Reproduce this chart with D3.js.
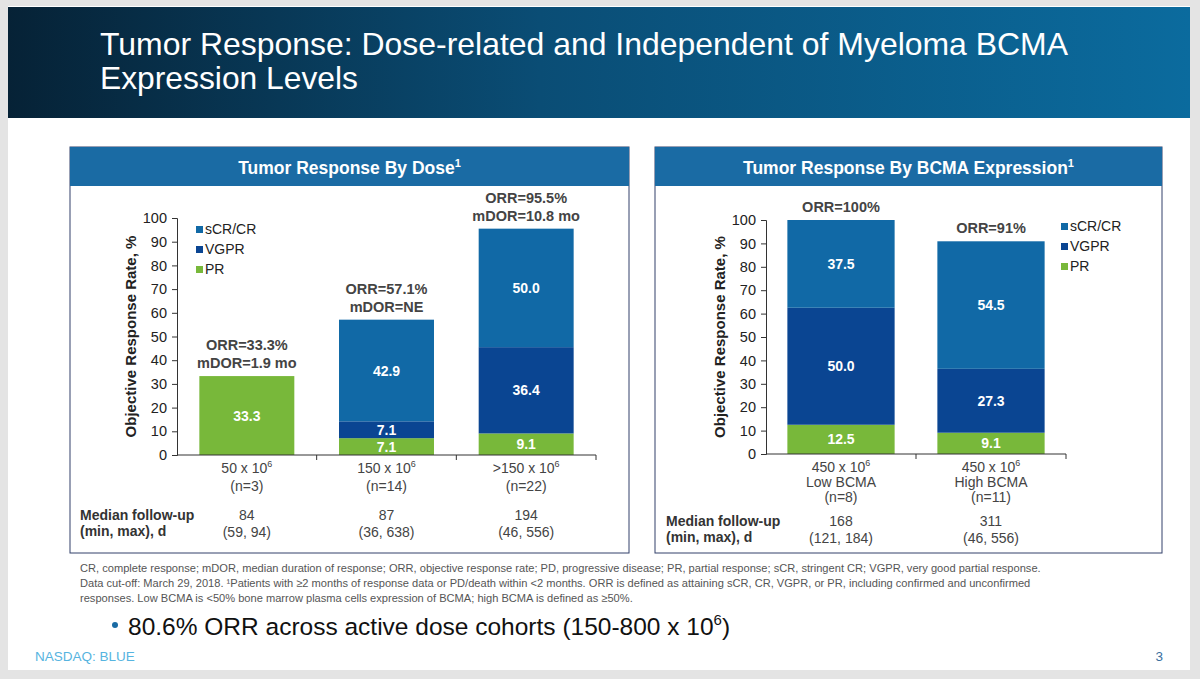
<!DOCTYPE html>
<html>
<head>
<meta charset="utf-8">
<script src="https://cdn.jsdelivr.net/npm/d3@7"></script>
<style>
  body { margin: 0; background: #e4e4e4; }
  svg { display: block; font-family: "Liberation Sans", Arial, sans-serif; }
</style>
</head>
<body>
<svg id="slide" width="1200" height="679"></svg>
<script>
// --- data ---
var seriesKeys = ["PR", "VGPR", "CR"];
var legendLabels = ["sCR/CR", "VGPR", "PR"];

var doseCats = ["50", "150", ">150"];
var doseLabels = [["50 x 10", "(n=3)"], ["150 x 10", "(n=14)"], [">150 x 10", "(n=22)"]];
var dosePR = [33.3, 7.1, 9.1];
var doseVGPR = [0, 7.1, 36.4];
var doseCR = [0, 42.9, 50.0];
var doseORR = [["ORR=33.3%", "mDOR=1.9 mo"], ["ORR=57.1%", "mDOR=NE"], ["ORR=95.5%", "mDOR=10.8 mo"]];
var doseFollow = [["84", "(59, 94)"], ["87", "(36, 638)"], ["194", "(46, 556)"]];

var bcmaCats = ["low", "high"];
var bcmaLabels = [["450 x 10", "Low BCMA", "(n=8)"], ["450 x 10", "High BCMA", "(n=11)"]];
var bcmaPR = [12.5, 9.1];
var bcmaVGPR = [50.0, 27.3];
var bcmaCR = [37.5, 54.5];
var bcmaORR = [["ORR=100%"], ["ORR=91%"]];
var bcmaFollow = [["168", "(121, 184)"], ["311", "(46, 556)"]];

var yTicks = [0, 10, 20, 30, 40, 50, 60, 70, 80, 90, 100];

var colors = { CR: "#1169a6", VGPR: "#0a4592", PR: "#78b83a" };

var svg = d3.select("#slide");

// slide background + header band
svg.append("rect").attr("x", 8).attr("y", 6).attr("width", 1182).attr("height", 664).attr("fill", "#fff");
var grad = svg.append("defs").append("linearGradient").attr("id", "hdr");
grad.append("stop").attr("offset", "0%").attr("stop-color", "#062236");
grad.append("stop").attr("offset", "45%").attr("stop-color", "#0a4d75");
grad.append("stop").attr("offset", "100%").attr("stop-color", "#0b6b9e");
svg.append("rect").attr("x", 8).attr("y", 7).attr("width", 1182).attr("height", 111).attr("fill", "url(#hdr)");
svg.append("text").attr("x", 100).attr("y", 55).attr("fill", "#fff").attr("font-size", 32)
  .attr("textLength", 968).attr("lengthAdjust", "spacingAndGlyphs")
  .text("Tumor Response: Dose-related and Independent of Myeloma BCMA");
svg.append("text").attr("x", 100).attr("y", 89).attr("fill", "#fff").attr("font-size", 32)
  .attr("textLength", 258).attr("lengthAdjust", "spacingAndGlyphs")
  .text("Expression Levels");

function panel(opt) {
  var g = svg.append("g");
  g.append("rect").attr("x", opt.px).attr("y", 147).attr("width", opt.pw).attr("height", 406)
    .attr("fill", "#fff").attr("stroke", "#33406a").attr("stroke-width", 1);
  g.append("rect").attr("x", opt.px).attr("y", 147).attr("width", opt.pw).attr("height", 39).attr("fill", "#1a6ba4");
  var t = g.append("text").attr("x", opt.px + opt.pw / 2).attr("y", 174).attr("text-anchor", "middle")
    .attr("fill", "#fff").attr("font-size", 17.5).attr("font-weight", "bold").text(opt.title);
  t.append("tspan").attr("font-size", 11).attr("dy", -7).text("1");

  var table = opt.cats.map(function (c, i) {
    return { cat: c, PR: opt.pr[i], VGPR: opt.vgpr[i], CR: opt.cr[i] };
  });
  var stacked = d3.stack().keys(seriesKeys)(table);

  var x = d3.scaleBand().domain(opt.cats).range([opt.x0, opt.x1]).padding(0);
  var y = d3.scaleLinear().domain([0, 100]).range([opt.y0, opt.y1]);
  var bw = x.bandwidth() * opt.barFrac;
  var bx = function (c) { return x(c) + (x.bandwidth() - bw) / 2; };

  // bars
  stacked.forEach(function (s) {
    g.append("g").selectAll("rect").data(s).join("rect")
      .attr("x", function (d) { return bx(d.data.cat); })
      .attr("y", function (d) { return y(d[1]); })
      .attr("width", bw)
      .attr("height", function (d) { return y(d[0]) - y(d[1]); })
      .attr("fill", colors[s.key]);
    g.append("g").selectAll("text").data(s.filter(function (d) { return d[1] - d[0] > 0; })).join("text")
      .attr("x", function (d) { return x(d.data.cat) + x.bandwidth() / 2; })
      .attr("y", function (d) { return (y(d[0]) + y(d[1])) / 2 + 5; })
      .attr("text-anchor", "middle").attr("fill", "#fff").attr("font-size", 14).attr("font-weight", "bold")
      .text(function (d) { return (d[1] - d[0]).toFixed(1); });
  });

  // y axis
  var ya = g.append("g").attr("transform", "translate(" + opt.x0 + ",0)")
    .call(d3.axisLeft(y).tickValues(yTicks).tickSize(5).tickPadding(5));
  ya.select(".domain").attr("stroke", "#333");
  ya.selectAll(".tick line").attr("stroke", "#333");
  ya.selectAll(".tick text").attr("font-size", 14.5).attr("fill", "#222").attr("font-family", "Liberation Sans, Arial, sans-serif");

  // x axis: baseline with separators
  g.append("line").attr("x1", opt.x0).attr("x2", opt.x1).attr("y1", y(0)).attr("y2", y(0)).attr("stroke", "#333");
  var seps = opt.cats.map(function (c) { return x(c); }).concat([opt.x1]);
  g.selectAll(".sep").data(seps.slice(1)).join("line")
    .attr("x1", function (d) { return d; }).attr("x2", function (d) { return d; })
    .attr("y1", y(0)).attr("y2", y(0) + 5).attr("stroke", "#333");

  g.append("text").attr("transform", "translate(" + opt.ytx + "," + y(50) + ") rotate(-90)")
    .attr("text-anchor", "middle").attr("font-size", 15).attr("font-weight", "bold").attr("fill", "#222")
    .text("Objective Response Rate, %");

  // category labels
  opt.cats.forEach(function (c, i) {
    var cx = x(c) + x.bandwidth() / 2;
    opt.labels[i].forEach(function (line, j) {
      var t = g.append("text").attr("x", cx).attr("y", y(0) + 18 + j * opt.lineGap)
        .attr("text-anchor", "middle").attr("font-size", 14).attr("fill", "#444").text(line);
      if (j === 0) t.append("tspan").attr("font-size", 9).attr("dy", -6).text("6");
    });
    var top = opt.pr[i] + opt.vgpr[i] + opt.cr[i];
    var lines = opt.orr[i];
    lines.forEach(function (line, j) {
      g.append("text").attr("x", cx).attr("y", y(top) - 8 - (lines.length - 1 - j) * 18)
        .attr("text-anchor", "middle").attr("font-size", 14.5).attr("font-weight", "bold").attr("fill", "#444")
        .text(line);
    });
    opt.follow[i].forEach(function (line, j) {
      g.append("text").attr("x", cx).attr("y", opt.fy + j * 17)
        .attr("text-anchor", "middle").attr("font-size", 14).attr("fill", "#444").text(line);
    });
  });

  g.append("text").attr("x", opt.fx).attr("y", opt.fy).attr("font-size", 14).attr("font-weight", "bold")
    .attr("fill", "#333").text("Median follow-up");
  g.append("text").attr("x", opt.fx).attr("y", opt.fy + 16).attr("font-size", 14).attr("font-weight", "bold")
    .attr("fill", "#333").text("(min, max), d");

  // legend
  var lg = g.append("g").attr("transform", "translate(" + opt.lx + "," + opt.ly + ")");
  legendLabels.forEach(function (lab, i) {
    var key = ["CR", "VGPR", "PR"][i];
    lg.append("rect").attr("x", 0).attr("y", i * 20 - 4).attr("width", 7).attr("height", 7).attr("fill", colors[key]);
    lg.append("text").attr("x", 9).attr("y", i * 20 + 4).attr("font-size", 14).attr("fill", "#222").text(lab);
  });
}

panel({
  px: 70, pw: 559, title: "Tumor Response By Dose",
  cats: doseCats, labels: doseLabels, pr: dosePR, vgpr: doseVGPR, cr: doseCR, orr: doseORR, follow: doseFollow,
  x0: 177, x1: 596, y0: 455, y1: 218, barFrac: 0.68, ytx: 136, lineGap: 18,
  fx: 80, fy: 520, lx: 196, ly: 230
});
panel({
  px: 655, pw: 507, title: "Tumor Response By BCMA Expression",
  cats: bcmaCats, labels: bcmaLabels, pr: bcmaPR, vgpr: bcmaVGPR, cr: bcmaCR, orr: bcmaORR, follow: bcmaFollow,
  x0: 766, x1: 1066, y0: 454, y1: 220, barFrac: 0.715, ytx: 725, lineGap: 15,
  fx: 666, fy: 526, lx: 1061, ly: 227
});

// footnotes
var notes = [
  "CR, complete response; mDOR, median duration of response; ORR, objective response rate; PD, progressive disease; PR, partial response; sCR, stringent CR; VGPR, very good partial response.",
  "Data cut-off: March 29, 2018. \u00b9Patients with \u22652 months of response data or PD/death within <2 months. ORR is defined as attaining sCR, CR, VGPR, or PR, including confirmed and unconfirmed",
  "responses. Low BCMA is <50% bone marrow plasma cells expression of BCMA; high BCMA is defined as \u226550%."
];
notes.forEach(function (n, i) {
  svg.append("text").attr("x", 80).attr("y", 572 + i * 15).attr("font-size", 11.1).attr("fill", "#555")
    .attr("font-family", "Liberation Sans Narrow, Arial Narrow, Liberation Sans, sans-serif").text(n);
});

svg.append("circle").attr("cx", 115).attr("cy", 625).attr("r", 3).attr("fill", "#1a6ba4");
var b = svg.append("text").attr("x", 128).attr("y", 635).attr("font-size", 24.5).attr("fill", "#111")
  .text("80.6% ORR across active dose cohorts (150-800 x 10");
b.append("tspan").attr("font-size", 15).attr("dy", -10).text("6");
b.append("tspan").attr("dy", 10).text(")");

svg.append("text").attr("x", 35).attr("y", 661).attr("font-size", 13.5).attr("fill", "#56b4e0").text("NASDAQ: BLUE");
svg.append("text").attr("x", 1163).attr("y", 661).attr("font-size", 13.5).attr("fill", "#3a6fa0")
  .attr("text-anchor", "end").text("3");
</script>
</body>
</html>
